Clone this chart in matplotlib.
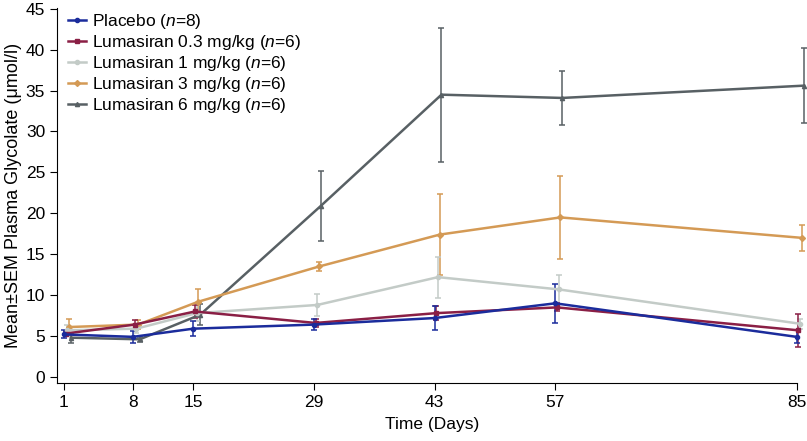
import matplotlib.pyplot as plt
from matplotlib.lines import Line2D

plt.rcParams['font.family'] = ['Liberation Sans', 'DejaVu Sans']
plt.rcParams['mathtext.fontset'] = 'custom'
plt.rcParams['mathtext.it'] = 'Liberation Sans:italic'
plt.rcParams['mathtext.rm'] = 'Liberation Sans'

# baseline (day 1) is drawn at position 0 in the original chart
days = [0, 8, 15, 29, 43, 57, 85]
day_labels = ['1', '8', '15', '29', '43', '57', '85']

groups = ['Placebo ($\\mathit{n}$=8)',
          'Lumasiran 0.3 mg/kg ($\\mathit{n}$=6)',
          'Lumasiran 1 mg/kg ($\\mathit{n}$=6)',
          'Lumasiran 3 mg/kg ($\\mathit{n}$=6)',
          'Lumasiran 6 mg/kg ($\\mathit{n}$=6)']

placebo = [5.2, 4.9, 5.9, 6.4, 7.2, 9.0, 4.9]
placebo_sem = [0.5, 0.7, 0.9, 0.7, 1.5, 2.4, 0.8]
dose_03 = [5.3, 6.4, 8.0, 6.6, 7.8, 8.5, 5.7]
dose_03_sem = [0.3, 0.6, 0.8, 0.5, 0.9, 0.5, 2.0]
dose_1 = [5.7, 5.9, 7.8, 8.8, 12.2, 10.7, 6.5]
dose_1_sem = [0.6, 0.5, 1.0, 1.3, 2.5, 1.8, 0.6]
dose_3 = [6.1, 6.4, 9.2, 13.5, 17.4, 19.5, 17.0]
dose_3_sem = [1.0, 0.6, 1.6, 0.6, 5.0, 5.1, 1.6]
dose_6 = [4.8, 4.6, 7.6, 20.9, 34.5, 34.1, 35.6]
dose_6_sem = [0.6, 0.3, 1.3, 4.3, 8.2, 3.3, 4.6]

series = [placebo, dose_03, dose_1, dose_3, dose_6]
sems = [placebo_sem, dose_03_sem, dose_1_sem, dose_3_sem, dose_6_sem]
colors = ['#1b2c9c', '#8a1f45', '#c3cbc7', '#d49a55', '#586064']
markers = ['o', 's', 'o', 'D', '^']

fig = plt.figure(figsize=(8.07, 4.41), dpi=100)
ax = fig.add_axes([0.0706, 0.1315, 0.9294, 0.8505])

# draw highest dose first so placebo sits on top
for i in reversed(range(5)):
    x = [d + 0.2 * i for d in days]
    ax.errorbar(x, series[i], yerr=sems[i], color=colors[i], lw=1.8,
                marker=markers[i], ms=3, elinewidth=1.1, capsize=2.5,
                capthick=1.1, clip_on=False)

handles = [Line2D([], [], color=colors[i], lw=1.8, marker=markers[i], ms=3)
           for i in range(5)]

ax.set_xlim(-0.8, 86.2)
ax.set_ylim(-0.74, 45.1)
ax.spines['bottom'].set_bounds(-0.8, 85)
ax.spines['top'].set_visible(False)
ax.spines['right'].set_visible(False)
ax.set_xticks(days)
ax.set_xticklabels(day_labels)
ax.set_yticks(range(0, 46, 5))
ax.tick_params(labelsize=12.5, length=5, direction='out')
ax.set_xlabel('Time (Days)', fontsize=12.5, labelpad=5)
ax.set_ylabel('Mean±SEM Plasma Glycolate (μmol/l)', fontsize=13, labelpad=3)

ax.legend(handles, groups, loc='upper left', frameon=False, fontsize=12.5,
          handlelength=1.0, handletextpad=0.35, labelspacing=0.12,
          borderaxespad=0.0, bbox_to_anchor=(0.006, 1.008))

fig.savefig('out.png', dpi=100)
